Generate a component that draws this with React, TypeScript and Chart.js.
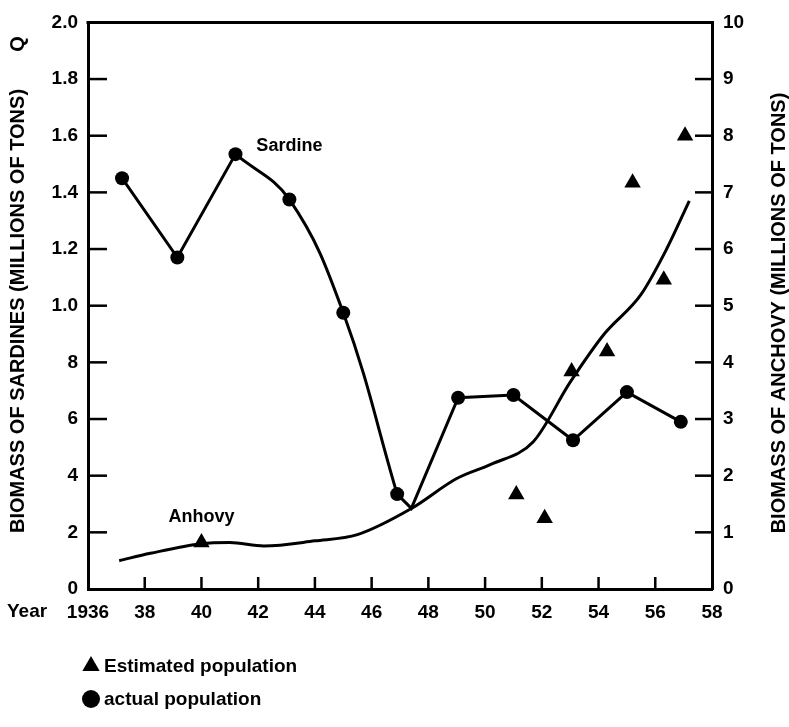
import React, { useEffect, useRef } from 'react';
import { Chart, registerables } from 'chart.js';

Chart.register(...registerables);

// ---- data ----
const yearMin = 1936;
const yearMax = 1958;
const xTickLabels = ['1936', '38', '40', '42', '44', '46', '48', '50', '52', '54', '56', '58'];
const leftTickLabels = ['0', '2', '4', '6', '8', '1.0', '1.2', '1.4', '1.6', '1.8', '2.0'];
const rightTickLabels = ['0', '1', '2', '3', '4', '5', '6', '7', '8', '9', '10'];

// Sardine (actual population, millions of tons, left axis)
const sardineYears = [1937.2, 1939.15, 1941.2, 1943.1, 1945.0, 1946.9, 1949.05, 1951.0, 1953.1, 1955.0, 1956.9];
const sardineValues = [1.45, 1.17, 1.535, 1.375, 0.975, 0.335, 0.675, 0.685, 0.525, 0.695, 0.59];
// lowest point of the sardine line, where it meets the anchovy curve
const sardineTroughYear = 1947.4;
const sardineTroughValue = 0.285;

// Anchovy fitted curve (millions of tons, right axis)
const anchovyCurveYears = [1937.1, 1938.2, 1940.0, 1941.0, 1942.2, 1944.0, 1945.5, 1947.4, 1949.0, 1950.2, 1951.7, 1953.0, 1954.2, 1955.5, 1956.4, 1957.2];
const anchovyCurveValues = [0.5, 0.63, 0.8, 0.82, 0.76, 0.85, 0.96, 1.42, 1.95, 2.2, 2.6, 3.65, 4.5, 5.2, 6.0, 6.85];

// Anchovy estimated population (triangles, right axis)
const anchovyEstYears = [1940.0, 1951.1, 1952.1, 1953.05, 1954.3, 1955.2, 1956.3, 1957.05];
const anchovyEstValues = [0.82, 1.67, 1.25, 3.84, 4.19, 7.17, 5.46, 8.0];

// annotation anchors (data space)
const sardineLabel = { text: 'Sardine', year: 1943.1, value: 1.565 };
const anchovyLabel = { text: 'Anhovy', year: 1940.0, value: 1.27 };

const leftTitle = 'BIOMASS OF SARDINES (MILLIONS OF TONS)';
const rightTitle = 'BIOMASS OF ANCHOVY (MILLIONS OF TONS)';
const legendItems = ['Estimated population', 'actual population'];

const FONT = "'Liberation Sans', Arial, Helvetica, sans-serif";

function pts(xs: number[], ys: number[]) {
  return xs.map((x, i) => ({ x, y: ys[i] }));
}

const decorPlugin = {
  id: 'decor',
  afterDraw(chart: any) {
    const { ctx, chartArea: a, scales } = chart;
    const x = scales.x, y = scales.y, y2 = scales.y2;
    ctx.save();
    ctx.strokeStyle = '#000';
    ctx.fillStyle = '#000';
    // top frame line
    ctx.lineWidth = 3;
    ctx.beginPath();
    ctx.moveTo(a.left - 1.5, a.top);
    ctx.lineTo(a.right + 1.5, a.top);
    ctx.stroke();
    // inward ticks
    ctx.lineWidth = 2.5;
    y.ticks.forEach((t: any) => {
      if (t.value <= y.min || t.value >= y.max - 1e-9) return;
      const p = y.getPixelForValue(t.value);
      ctx.beginPath(); ctx.moveTo(a.left, p); ctx.lineTo(a.left + 19, p); ctx.stroke();
    });
    y2.ticks.forEach((t: any) => {
      if (t.value <= y2.min || t.value >= y2.max) return;
      const p = y2.getPixelForValue(t.value);
      ctx.beginPath(); ctx.moveTo(a.right, p); ctx.lineTo(a.right - 17, p); ctx.stroke();
    });
    x.ticks.forEach((t: any) => {
      if (t.value <= x.min || t.value >= x.max) return;
      const p = x.getPixelForValue(t.value);
      ctx.beginPath(); ctx.moveTo(p, a.bottom); ctx.lineTo(p, a.bottom - 12); ctx.stroke();
    });

    // "Year" label
    ctx.font = `bold 19px ${FONT}`;
    ctx.textAlign = 'left';
    ctx.textBaseline = 'middle';
    ctx.fillText('Year', 7, 612);

    // series labels
    ctx.font = `bold 18px ${FONT}`;
    ctx.textAlign = 'center';
    ctx.fillText(sardineLabel.text, x.getPixelForValue(sardineLabel.year), y.getPixelForValue(sardineLabel.value));
    ctx.fillText(anchovyLabel.text, x.getPixelForValue(anchovyLabel.year), y2.getPixelForValue(anchovyLabel.value));

    // axis titles
    ctx.font = `bold 20px ${FONT}`;
    ctx.save();
    ctx.translate(18, 311);
    ctx.rotate(-Math.PI / 2);
    ctx.fillText(leftTitle, 0, 0);
    ctx.restore();
    ctx.save();
    ctx.translate(18, 44);
    ctx.rotate(-Math.PI / 2);
    ctx.fillText('Q', 0, 0);
    ctx.restore();
    ctx.save();
    ctx.translate(779, 313);
    ctx.rotate(-Math.PI / 2);
    ctx.fillText(rightTitle, 0, 0);
    ctx.restore();

    // legend
    ctx.font = `bold 19px ${FONT}`;
    ctx.textAlign = 'left';
    const lx = 91;
    const ly1 = 666, ly2 = 699;
    const r = 10;
    ctx.beginPath();
    ctx.moveTo(lx, ly1 - r);
    ctx.lineTo(lx + r * 0.866, ly1 + r * 0.5);
    ctx.lineTo(lx - r * 0.866, ly1 + r * 0.5);
    ctx.closePath();
    ctx.fill();
    ctx.fillText(legendItems[0], 104, ly1 + 1);
    ctx.beginPath();
    ctx.arc(lx, ly2, 9, 0, Math.PI * 2);
    ctx.fill();
    ctx.fillText(legendItems[1], 104, ly2 + 1);
    ctx.restore();
  },
};

const tickFont = { family: FONT, size: 19, weight: 'bold' };

export default function App() {
  const ref = useRef<HTMLCanvasElement | null>(null);
  useEffect(() => {
    if (!ref.current) return;
    const sardinePts = pts(sardineYears, sardineValues);
    const chart = new Chart(ref.current, {
      type: 'line',
      data: {
        datasets: [
          {
            label: 'Sardine line A',
            data: sardinePts.slice(0, 3),
            yAxisID: 'y',
            borderColor: '#000',
            borderWidth: 3,
            pointRadius: 0,
            tension: 0,
          },
          {
            label: 'Sardine curve',
            data: sardinePts.slice(2, 6),
            yAxisID: 'y',
            borderColor: '#000',
            borderWidth: 3,
            pointRadius: 0,
            tension: 0.4,
          },
          {
            label: 'Sardine line C',
            data: [sardinePts[5], { x: sardineTroughYear, y: sardineTroughValue }, ...sardinePts.slice(6)],
            yAxisID: 'y',
            borderColor: '#000',
            borderWidth: 3,
            pointRadius: 0,
            tension: 0,
          },
          {
            label: 'actual population',
            data: sardinePts,
            yAxisID: 'y',
            showLine: false,
            pointStyle: 'circle',
            pointRadius: 7,
            pointBackgroundColor: '#000',
            pointBorderColor: '#000',
            pointBorderWidth: 0,
          },
          {
            label: 'Anchovy',
            data: pts(anchovyCurveYears, anchovyCurveValues),
            yAxisID: 'y2',
            borderColor: '#000',
            borderWidth: 3,
            pointRadius: 0,
            cubicInterpolationMode: 'monotone',
          },
          {
            label: 'Estimated population',
            data: pts(anchovyEstYears, anchovyEstValues),
            yAxisID: 'y2',
            showLine: false,
            pointStyle: 'triangle',
            pointRadius: 9.5,
            pointBackgroundColor: '#000',
            pointBorderColor: '#000',
            pointBorderWidth: 0,
          },
        ] as any,
      },
      options: {
        animation: false,
        responsive: false,
        maintainAspectRatio: false,
        layout: { padding: { top: 14, left: 0, right: 0, bottom: 0 } },
        plugins: { legend: { display: false }, tooltip: { enabled: false } },
        scales: {
          x: {
            type: 'linear',
            position: 'bottom',
            min: yearMin,
            max: yearMax,
            grid: { display: false, drawTicks: false },
            border: { display: true, color: '#000', width: 3 },
            ticks: {
              stepSize: 2,
              autoSkip: false,
              maxRotation: 0,
              padding: 12,
              color: '#000',
              font: tickFont,
              callback: (_v: any, i: number) => xTickLabels[i],
            },
            afterFit: (s: any) => { s.height = 138; },
          },
          y: {
            type: 'linear',
            position: 'left',
            min: 0,
            max: 2,
            grid: { display: false, drawTicks: false },
            border: { display: true, color: '#000', width: 3 },
            ticks: {
              stepSize: 0.2,
              padding: 10,
              color: '#000',
              font: tickFont,
              callback: (_v: any, i: number) => leftTickLabels[i],
            },
            afterFit: (s: any) => { s.width = 88; },
          },
          y2: {
            type: 'linear',
            position: 'right',
            min: 0,
            max: 10,
            grid: { display: false, drawTicks: false },
            border: { display: true, color: '#000', width: 3 },
            ticks: {
              stepSize: 1,
              padding: 11,
              color: '#000',
              font: tickFont,
              callback: (_v: any, i: number) => rightTickLabels[i],
            },
            afterFit: (s: any) => { s.width = 77; },
          },
        },
      } as any,
      plugins: [decorPlugin],
    });
    return () => chart.destroy();
  }, []);
  return (
    <div style={{ position: 'absolute', left: 0, top: 0, width: 789, height: 727, background: '#fff' }}>
      <canvas ref={ref} width={789} height={727} style={{ width: 789, height: 727, display: 'block' }} />
    </div>
  );
}
